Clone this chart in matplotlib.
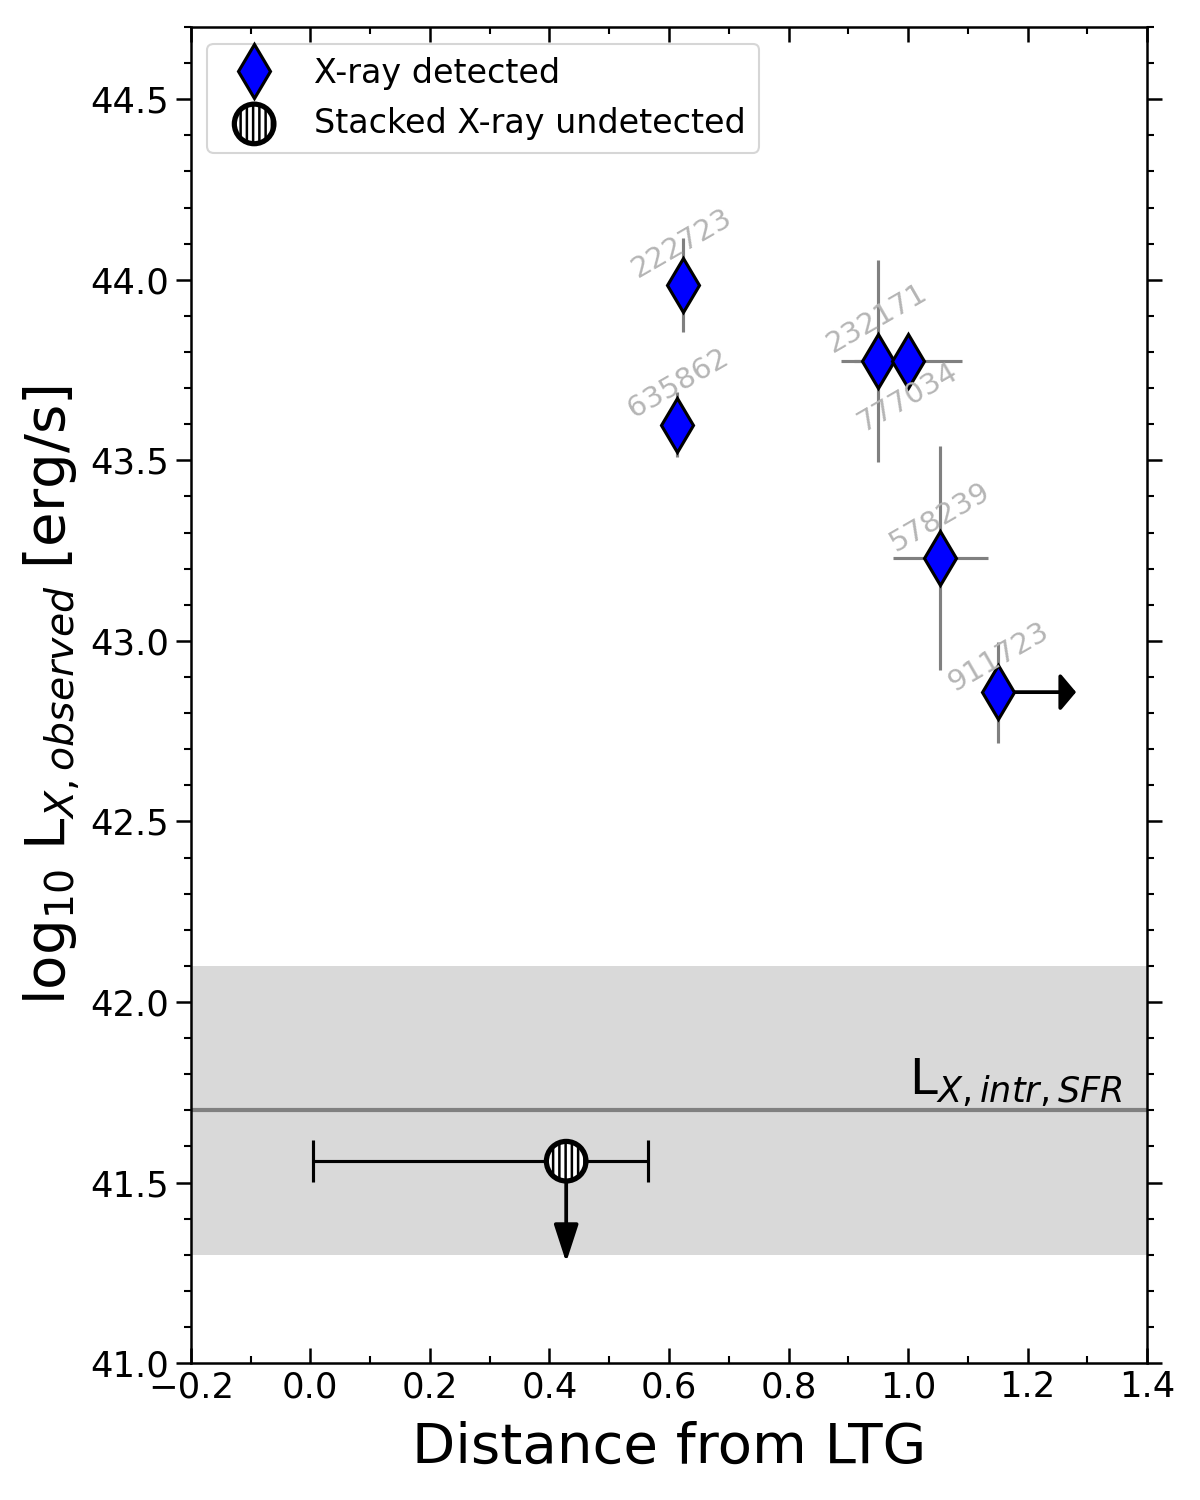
import numpy as np
import matplotlib
matplotlib.use('Agg')
from matplotlib import pyplot as plt
from matplotlib.ticker import MultipleLocator

# X-ray detected sources
src_ids = ['222723', '635862', '232171', '777034', '578239', '911723']
dist = [0.623, 0.613, 0.950, 1.000, 1.054, 1.151]
lx_obs = [43.985, 43.598, 43.775, 43.775, 43.229, 42.858]
lx_err = [0.13, 0.09, 0.28, 0.0, 0.31, 0.14]
dist_err = [0.0, 0.0, 0.062, 0.09, 0.08, 0.0]
# label positions (data coords) for the ids
lab_x = [0.622, 0.615, 0.948, 1.000, 1.054, 1.151]
lab_y = [44.10, 43.714, 43.894, 43.675, 43.343, 42.955]
# 911723 is a lower limit in distance
lim_idx = 5
lim_len = 0.13

# stacked undetected
stack_x = 0.428
stack_y = 41.559
stack_xerr_lo = 0.424
stack_xerr_hi = 0.137
stack_arrow = 0.28

# SFR expected band
sfr_lx = 41.7
sfr_lo = 41.3
sfr_hi = 42.1

fig = plt.figure(figsize=(8, 10), dpi=150)
ax = fig.add_axes([0.159, 0.0913, 0.797, 0.8907])

ax.axhspan(sfr_lo, sfr_hi, color='#d9d9d9', zorder=0, lw=0)
ax.axhline(sfr_lx, color='gray', lw=2, zorder=1)
ax.text(1.358, sfr_lx + 0.005, r'L$_{X, intr, SFR}$', fontsize=24,
        ha='right', va='bottom')

for i in range(len(dist)):
    ax.errorbar(dist[i], lx_obs[i], yerr=lx_err[i] if lx_err[i] > 0 else None,
                xerr=dist_err[i] if dist_err[i] > 0 else None,
                fmt='none', ecolor='gray', elinewidth=1.5, zorder=2)

#lower limit arrow to the right
ax.annotate('', xy=(dist[lim_idx] + lim_len, lx_obs[lim_idx]),
            xytext=(dist[lim_idx], lx_obs[lim_idx]),
            arrowprops=dict(arrowstyle='-|>,head_width=0.38,head_length=0.32',
                            color='black', lw=1.8, mutation_scale=20,
                            shrinkA=0, shrinkB=0), zorder=2)

ax.plot(dist, lx_obs, linestyle='none', marker='d', ms=18, mfc='blue',
        mec='black', mew=1.5, zorder=4, label='X-ray detected')

for i in range(len(src_ids)):
    ax.text(lab_x[i], lab_y[i], src_ids[i], rotation=30, color='#b5b5b5',
            fontsize=14, ha='center', va='center', zorder=5)

ax.errorbar(stack_x, stack_y, xerr=[[stack_xerr_lo], [stack_xerr_hi]],
            fmt='none', ecolor='black', elinewidth=1.5, capsize=10,
            capthick=1.5, zorder=2)
#upper limit arrow
ax.annotate('', xy=(stack_x, stack_y - stack_arrow), xytext=(stack_x, stack_y),
            arrowprops=dict(arrowstyle='-|>,head_width=0.25,head_length=0.77',
                            color='black', lw=1.8, mutation_scale=20,
                            shrinkA=0, shrinkB=0), zorder=2)
plt.rcParams['hatch.linewidth'] = 1.2
ax.scatter([stack_x], [stack_y], s=19**2, marker='o', facecolor='white',
           edgecolor='black', linewidths=2.5, hatch='||||', zorder=4,
           label='Stacked X-ray undetected')

ax.set_xlim(-0.2, 1.4)
ax.set_ylim(41.0, 44.7)
ax.xaxis.set_major_locator(MultipleLocator(0.2))
ax.xaxis.set_minor_locator(MultipleLocator(0.1))
ax.yaxis.set_major_locator(MultipleLocator(0.5))
ax.yaxis.set_minor_locator(MultipleLocator(0.1))
ax.tick_params(axis='x', which='both', direction='in', top=True, bottom=True)
ax.tick_params(axis='y', which='both', direction='out', left=True, right=True)
ax.tick_params(which='major', length=7, width=1.2, labelsize=17)
ax.tick_params(which='minor', length=3.5, width=1)
for sp in ax.spines.values():
    sp.set_linewidth(1.2)

ax.set_xlabel('Distance from LTG', fontsize=27, labelpad=8)
ax.set_ylabel(r'log$_{10}$ L$_{X, observed}$ [erg/s]', fontsize=27)

ax.legend(loc='upper left', fontsize=16)

plt.savefig('out.png', dpi=150)
